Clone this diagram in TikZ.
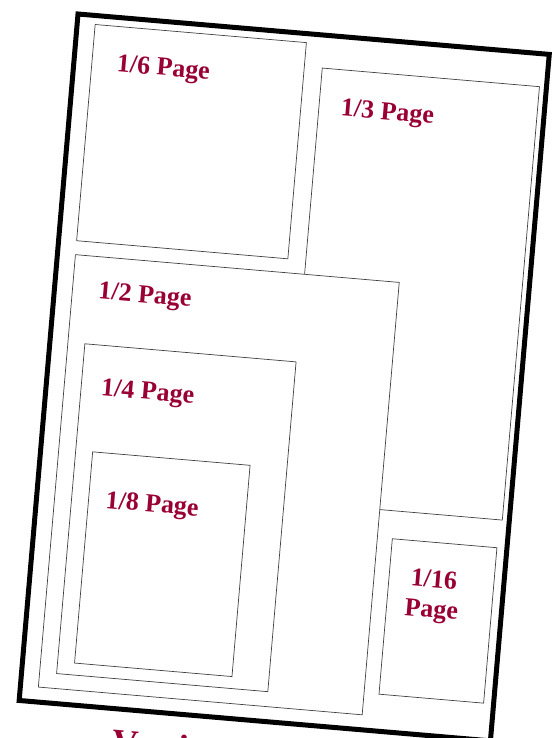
\documentclass[tikz,border=0pt]{standalone}
\usepackage{fontspec}
\setmainfont{Liberation Serif}
\definecolor{adred}{HTML}{990033}

\begin{document}
\begin{tikzpicture}[x=1pt, y=-1pt,
    % Estilos
    sheet/.style={
        draw=black, line width=5pt, anchor=north west,
        inner sep=0pt, outer sep=0pt
    },
    slot/.style={
        draw=black!75, line width=0.7pt, fill=white, anchor=north west,
        inner sep=0pt, outer sep=0pt
    },
    slotlbl/.style={
        anchor=base west, inner sep=0pt, text=adred,
        font=\fontsize{26}{30}\selectfont\bfseries
    }
]
\useasboundingbox (0,0) rectangle (555,738);
\clip (0,0) rectangle (555,738);

\begin{scope}[shift={(78,14)}, rotate=-4.9, transform shape]

% =============================================
% HOJA
% =============================================
\node[sheet, minimum width=473, minimum height=689] (page) at (0,0) {};

% =============================================
% COLUMNA DERECHA / SUPERIOR
% =============================================
\node[slot, minimum width=212, minimum height=217] (sixth) at (18,9) {};
\node[slotlbl] (lsixth) at (43,54) {1/6 Page};

\node[slot, minimum width=218, minimum height=435] (third) at (248,33) {};
\node[slotlbl] (lthird) at (270,79) {1/3 Page};

% =============================================
% BLOQUES ANIDADOS (1/2 > 1/4 > 1/8)
% =============================================
\node[slot, minimum width=325, minimum height=434] (half) at (18,240) {};
\node[slotlbl] (lhalf) at (44,282) {1/2 Page};

\node[slot, minimum width=212, minimum height=331] (quarter) at (35,328) {};
\node[slotlbl] (lquarter) at (55,378) {1/4 Page};

\node[slot, minimum width=158, minimum height=212] (eighth) at (52,435) {};
\node[slotlbl] (leighth) at (69,490) {1/8 Page};

% =============================================
% ESQUINA INFERIOR DERECHA
% =============================================
\node[slot, minimum width=105, minimum height=156] (sixteenth) at (358,496) {};
\node[slotlbl, anchor=base, align=center] (lsixteenth) at (403,571) {1/16\\Page};

% titulo (cortado abajo)
\node[anchor=north west, inner sep=0pt, text=adred,
      font=\fontsize{36}{40}\selectfont\bfseries] (title) at (96,709) {Vertical};

\end{scope}
\end{tikzpicture}
\end{document}
